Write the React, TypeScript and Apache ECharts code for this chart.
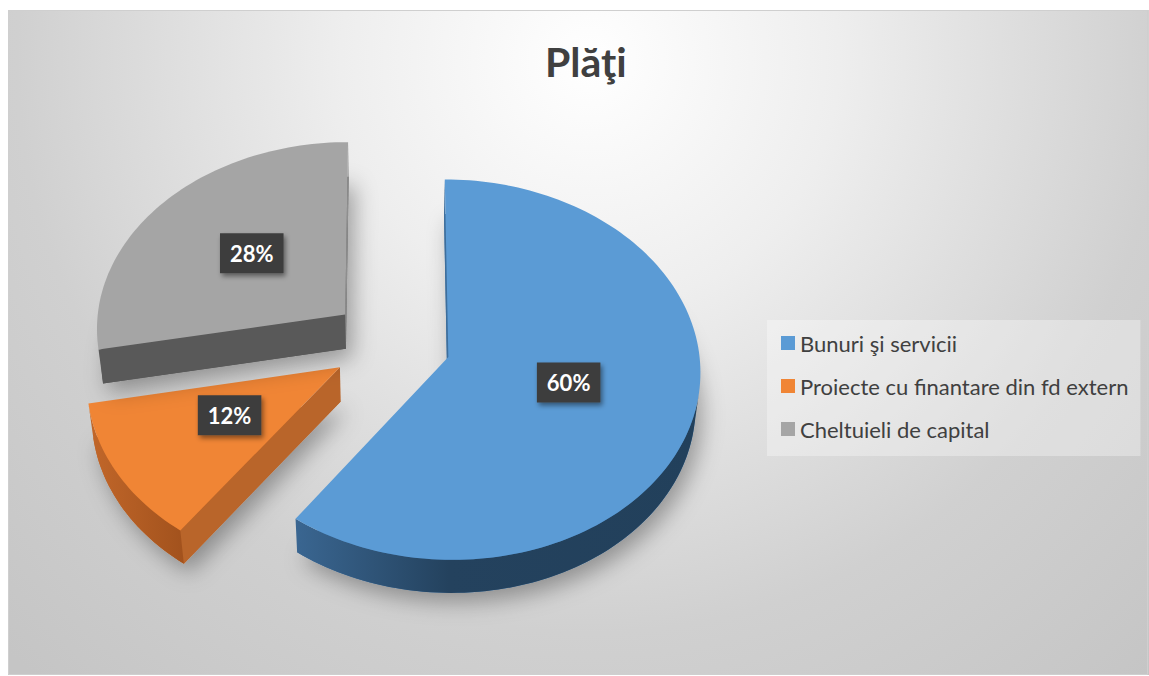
import { useEffect, useRef } from "react";
import * as echarts from "echarts";

// ---------- data ----------
const categories = ["Bunuri şi servicii", "Proiecte cu finantare din fd extern", "Cheltuieli de capital"];
const values = [60, 12, 28];
const titleText = "Plăţi";

// ---------- styles ----------
const topColors = ["#5B9BD5", "#F08535", "#A5A5A5"];
const wallStops = [
  [[0, "#22405B"], [0.62, "#24425E"], [1, "#3A6691"]],
  [[0, "#A2521D"], [1, "#C2672A"]],
  [[0, "#555555"], [1, "#5A5A5A"]],
];
const startFaceColors = ["#3D6E9C", "#B9652A", "#595959"];
const endFaceColors = ["#3D6E9C", "#B9652A", "#8E8E8E"];
const FONT = "Lato, 'Open Sans', 'DejaVu Sans', sans-serif";

// ---------- 3D view ----------
const VIEW = { cx: 383, cy: 333, k: 250, D: 10, sinA: 0.75, cosA: 0.661, t: 0.21, e: 0.24 };
const TAU = Math.PI * 2;
const total = values.reduce((a, b) => a + b, 0);

function project(u: number, v: number, h: number): number[] {
  const z = VIEW.D + v * VIEW.cosA - h * VIEW.sinA;
  const f = VIEW.D / z;
  return [VIEW.cx + VIEW.k * u * f, VIEW.cy - VIEW.k * (v * VIEW.sinA + h * VIEW.cosA) * f];
}

function renderItem(params: any, api: any) {
  const i = params.dataIndex;
  const val = api.value(0);
  let before = 0;
  for (let j = 0; j < i; j++) before += values[j];
  const a1 = (before / total) * TAU;
  const a2 = a1 + (val / total) * TAU;
  const mid = (a1 + a2) / 2;
  const ou = VIEW.e * Math.sin(mid);
  const ov = VIEW.e * Math.cos(mid);
  const T = VIEW.t;
  const rim = (th: number, h: number) => project(ou + Math.sin(th), ov + Math.cos(th), h);
  const arc = (s: number, e: number, h: number) => {
    const n = Math.max(2, Math.ceil(Math.abs(e - s) / (Math.PI / 120)));
    const pts: number[][] = [];
    for (let k = 0; k <= n; k++) pts.push(rim(s + ((e - s) * k) / n, h));
    return pts;
  };
  const apexT = project(ou, ov, 0);
  const apexB = project(ou, ov, -T);
  const cam = [0, -VIEW.D * VIEW.cosA];
  const visible = (pu: number, pv: number, nu: number, nv: number) =>
    (cam[0] - pu) * nu + (cam[1] - pv) * nv > 0;

  const children: any[] = [];
  // soft shadow under slice
  children.push({
    type: "polygon",
    shape: { points: [apexB, ...arc(a1, a2, -T)] },
    style: {
      fill: startFaceColors[i],
      shadowBlur: 22,
      shadowOffsetX: 6,
      shadowOffsetY: 9,
      shadowColor: "rgba(0,0,0,0.33)",
    },
  });
  const face = (th: number, color: string) => ({
    type: "polygon",
    shape: { points: [apexT, rim(th, 0), rim(th, -T), apexB] },
    style: { fill: color },
  });
  if (visible(ou, ov, -Math.cos(a1), Math.sin(a1))) children.push(face(a1, startFaceColors[i]));
  if (visible(ou, ov, Math.cos(a2), -Math.sin(a2))) children.push(face(a2, endFaceColors[i]));

  // outer wall: visible runs
  const steps = Math.max(4, Math.ceil((a2 - a1) / (Math.PI / 180)));
  let run: number[] = [];
  const runs: number[][] = [];
  for (let k = 0; k <= steps; k++) {
    const th = a1 + ((a2 - a1) * k) / steps;
    const pu = ou + Math.sin(th);
    const pv = ov + Math.cos(th);
    if (visible(pu, pv, Math.sin(th), Math.cos(th))) run.push(th);
    else if (run.length) {
      runs.push(run);
      run = [];
    }
  }
  if (run.length) runs.push(run);
  runs.forEach((r) => {
    if (r.length < 2) return;
    const s = r[0];
    const e = r[r.length - 1];
    const topPts = arc(s, e, 0);
    const botPts = arc(s, e, -T).reverse();
    children.push({
      type: "polygon",
      shape: { points: [...topPts, ...botPts] },
      style: {
        fill: new echarts.graphic.LinearGradient(
          1, 0, 0, 0,
          wallStops[i].map((st: any) => ({ offset: st[0], color: st[1] }))
        ),
      },
    });
  });

  // top face
  children.push({
    type: "polygon",
    shape: { points: [apexT, ...arc(a1, a2, 0)] },
    style: { fill: topColors[i] },
  });

  // label
  const lp = project(ou + 0.5 * Math.sin(mid), ov + 0.5 * Math.cos(mid), 0);
  children.push({
    type: "text",
    x: lp[0] - 1,
    y: lp[1] - 4,
    z2: 100,
    style: {
      text: Math.round((val / total) * 100) + "%",
      fill: "#FFFFFF",
      font: `bold 22px ${FONT}`,
      align: "center",
      verticalAlign: "middle",
      backgroundColor: "#3E3E3E",
      padding: [9, 10, 9, 10],
      shadowBlur: 5,
      shadowOffsetX: 2,
      shadowOffsetY: 3,
      shadowColor: "rgba(0,0,0,0.45)",
    },
  });
  return { type: "group", children };
}

export default function App() {
  const ref = useRef<HTMLDivElement>(null);
  useEffect(() => {
    if (!ref.current) return;
    document.body.style.margin = "0";
    document.body.style.overflow = "hidden";
    const chart = echarts.init(ref.current, undefined, { renderer: "svg" });
    chart.setOption({
      animation: false,
      backgroundColor: {
        type: "radial",
        x: 582,
        y: 50,
        r: 830,
        global: true,
        colorStops: [
          { offset: 0, color: "#FFFFFF" },
          { offset: 0.3, color: "#EEEEEE" },
          { offset: 0.69, color: "#D0D0D0" },
          { offset: 1, color: "#C5C5C5" },
        ],
      },
      title: {
        text: titleText,
        left: 532,
        top: 26,
        textStyle: { fontFamily: FONT, fontWeight: "bold", fontSize: 41, color: "#404040" },
      },
      legend: {
        data: categories,
        orient: "vertical",
        left: 759,
        top: 310,
        icon: "rect",
        itemWidth: 14,
        itemHeight: 14,
        itemGap: 21,
        padding: [12, 12, 16, 14],
        backgroundColor: "rgba(255,255,255,0.32)",
        selectedMode: false,
        textStyle: { fontFamily: FONT, fontSize: 22, color: "#404040" },
      },
      graphic: [
        {
          type: "rect",
          shape: { x: 0.5, y: 0.5, width: 1139, height: 664 },
          style: { fill: "none", stroke: "#CFCFCF", lineWidth: 1 },
          silent: true,
        },
      ],
      series: [
        {
          type: "pie",
          name: "legend",
          center: [-400, -400],
          radius: 4,
          silent: true,
          label: { show: false },
          labelLine: { show: false },
          data: categories.map((n, i) => ({ name: n, value: values[i], itemStyle: { color: topColors[i] } })),
        },
        {
          type: "custom",
          name: "Plăţi",
          coordinateSystem: "none",
          data: values.map((v) => [v]),
          renderItem,
        },
      ],
    });
    return () => chart.dispose();
  }, []);
  return <div ref={ref} style={{ width: 1141, height: 665, marginTop: 10, marginLeft: 8 }} />;
}
